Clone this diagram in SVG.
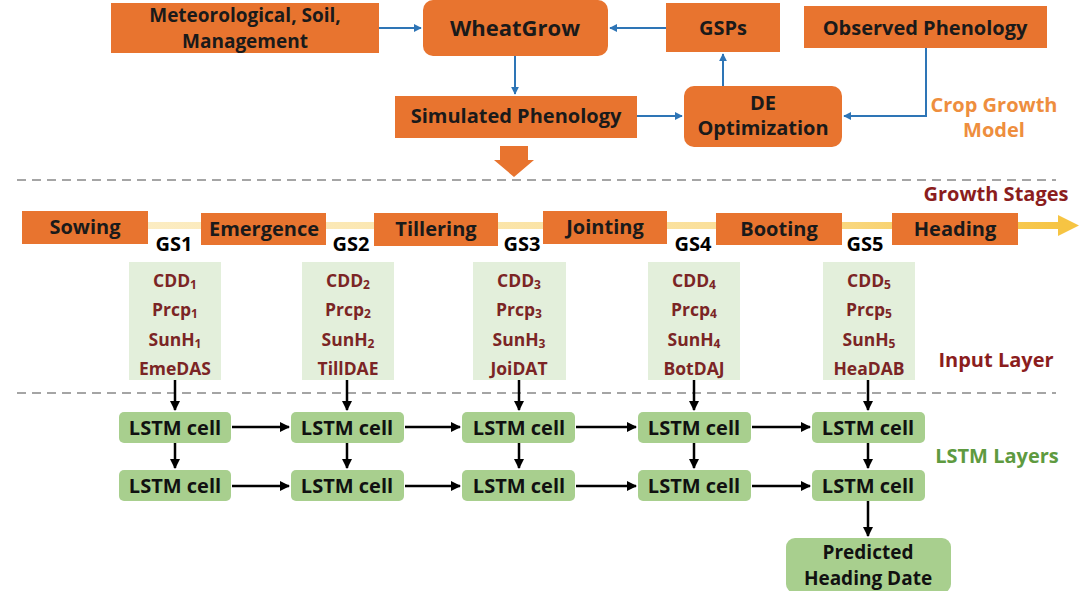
<svg xmlns="http://www.w3.org/2000/svg" width="1080" height="591" viewBox="0 0 1080 591">
<defs>
<style>
text{font-family:"Open Sans","Noto Sans","Liberation Sans",sans-serif;font-weight:bold;text-anchor:middle;dominant-baseline:central}
.org{fill:#E8742F}
.otx{font-size:20px;fill:#1a1a1a}
.gs{font-size:20px;fill:#000}
.inp{fill:#E3EFDB}
.itx{font-size:17.5px;fill:#7B2525}
.sub{font-size:12px}
.lstm{fill:#A8CF8E}
.ltx{font-size:20px;fill:#111}
.blue{stroke:#2E75B6;stroke-width:2;fill:none}
.blk{stroke:#000;stroke-width:2.5;fill:none}
.dash{stroke:#888;stroke-width:1.5;stroke-dasharray:9 6;fill:none}
</style>
<marker id="ab" viewBox="0 0 10 10" refX="9" refY="5" markerWidth="4" markerHeight="4" orient="auto"><path d="M0,0L10,5L0,10z" fill="#2E75B6"/></marker>
<marker id="ak" viewBox="0 0 10 10" refX="9" refY="5" markerWidth="4" markerHeight="4" orient="auto"><path d="M0,0L10,5L0,10z" fill="#000"/></marker>
<linearGradient id="yl" x1="0" x2="1" y1="0" y2="0"><stop offset="0" stop-color="#FCEFCB"/><stop offset="0.7" stop-color="#FADF98"/><stop offset="1" stop-color="#F6C443"/></linearGradient>
</defs>
<rect width="1080" height="591" fill="#fff"/>

<!-- separators -->
<line class="dash" x1="17" y1="180" x2="1056" y2="180"/>
<line class="dash" x1="17" y1="393" x2="1056" y2="393"/>

<!-- top section nodes -->
<g id="meteo"><rect class="org" x="111" y="3" width="268" height="50"/><text class="otx" x="245" y="15" style="font-size:19px">Meteorological, Soil,</text><text class="otx" x="245" y="41" style="font-size:19px">Management</text></g>
<g id="wheatgrow"><rect class="org" x="423" y="0" width="185" height="56" rx="10"/><text class="otx" x="515" y="27" style="font-size:22px">WheatGrow</text></g>
<g id="gsps"><rect class="org" x="666" y="3" width="114" height="49"/><text class="otx" x="723" y="27">GSPs</text></g>
<g id="observed"><rect class="org" x="804" y="6" width="243" height="42"/><text class="otx" x="925" y="27">Observed Phenology</text></g>
<g id="simulated"><rect class="org" x="395" y="96" width="242" height="42"/><text class="otx" x="516" y="115">Simulated Phenology</text></g>
<g id="de"><rect class="org" x="684" y="86" width="158" height="61" rx="10"/><text class="otx" x="763" y="102">DE</text><text class="otx" x="763" y="127">Optimization</text></g>
<g id="cropmodel"><text x="994" y="104" style="font-size:20px;fill:#EE8E3E">Crop Growth</text><text x="994" y="129" style="font-size:20px;fill:#EE8E3E">Model</text></g>
<g id="bigarrow"><path class="org" d="M500,146H528V160H534L514,177L494,160H500Z"/></g>

<!-- growth stages -->
<g id="stagebar"><rect x="22" y="222" width="1040" height="7" fill="url(#yl)"/><path d="M1058,215L1079,225.5L1058,236Z" fill="#F6C443"/></g>
<g id="growthstages"><text x="996" y="193" style="font-size:20px;fill:#8B1D1D">Growth Stages</text></g>
<g id="sowing"><rect class="org" x="22" y="211" width="126" height="33"/><text class="otx" x="85" y="226">Sowing</text></g>
<g id="emergence"><rect class="org" x="201" y="213" width="125" height="32"/><text class="otx" x="264" y="228">Emergence</text></g>
<g id="tillering"><rect class="org" x="374" y="213" width="124" height="33"/><text class="otx" x="436" y="228">Tillering</text></g>
<g id="jointing"><rect class="org" x="543" y="211" width="124" height="33"/><text class="otx" x="605" y="226">Jointing</text></g>
<g id="booting"><rect class="org" x="716" y="213" width="126" height="32"/><text class="otx" x="779" y="228">Booting</text></g>
<g id="heading"><rect class="org" x="892" y="213" width="126" height="32"/><text class="otx" x="955" y="228">Heading</text></g>
<g id="gslabels"><text class="gs" x="174" y="243">GS1</text><text class="gs" x="351" y="243">GS2</text><text class="gs" x="522" y="243">GS3</text><text class="gs" x="693" y="243">GS4</text><text class="gs" x="865" y="243">GS5</text></g>

<!-- input boxes -->
<g id="in1"><rect class="inp" x="129" y="262" width="92" height="118"/><text class="itx" x="175" y="280">CDD<tspan class="sub" dy="4">1</tspan></text><text class="itx" x="175" y="309">Prcp<tspan class="sub" dy="4">1</tspan></text><text class="itx" x="175" y="339">SunH<tspan class="sub" dy="4">1</tspan></text><text class="itx" x="175" y="368">EmeDAS</text></g>
<g id="in2"><rect class="inp" x="302" y="262" width="92" height="118"/><text class="itx" x="348" y="280">CDD<tspan class="sub" dy="4">2</tspan></text><text class="itx" x="348" y="309">Prcp<tspan class="sub" dy="4">2</tspan></text><text class="itx" x="348" y="339">SunH<tspan class="sub" dy="4">2</tspan></text><text class="itx" x="348" y="368">TillDAE</text></g>
<g id="in3"><rect class="inp" x="473" y="262" width="93" height="118"/><text class="itx" x="519" y="280">CDD<tspan class="sub" dy="4">3</tspan></text><text class="itx" x="519" y="309">Prcp<tspan class="sub" dy="4">3</tspan></text><text class="itx" x="519" y="339">SunH<tspan class="sub" dy="4">3</tspan></text><text class="itx" x="519" y="368">JoiDAT</text></g>
<g id="in4"><rect class="inp" x="648" y="262" width="92" height="118"/><text class="itx" x="694" y="280">CDD<tspan class="sub" dy="4">4</tspan></text><text class="itx" x="694" y="309">Prcp<tspan class="sub" dy="4">4</tspan></text><text class="itx" x="694" y="339">SunH<tspan class="sub" dy="4">4</tspan></text><text class="itx" x="694" y="368">BotDAJ</text></g>
<g id="in5"><rect class="inp" x="823" y="262" width="92" height="118"/><text class="itx" x="869" y="280">CDD<tspan class="sub" dy="4">5</tspan></text><text class="itx" x="869" y="309">Prcp<tspan class="sub" dy="4">5</tspan></text><text class="itx" x="869" y="339">SunH<tspan class="sub" dy="4">5</tspan></text><text class="itx" x="869" y="368">HeaDAB</text></g>
<g id="inputlayer"><text x="996" y="359" style="font-size:20px;fill:#8B1D1D">Input Layer</text></g>

<!-- LSTM cells -->
<g id="l11"><rect class="lstm" x="119" y="412" width="112" height="31" rx="5"/><text class="ltx" x="175" y="427">LSTM cell</text></g>
<g id="l12"><rect class="lstm" x="291" y="412" width="113" height="31" rx="5"/><text class="ltx" x="347" y="427">LSTM cell</text></g>
<g id="l13"><rect class="lstm" x="462" y="412" width="113" height="31" rx="5"/><text class="ltx" x="519" y="427">LSTM cell</text></g>
<g id="l14"><rect class="lstm" x="638" y="412" width="113" height="31" rx="5"/><text class="ltx" x="694" y="427">LSTM cell</text></g>
<g id="l15"><rect class="lstm" x="812" y="412" width="113" height="31" rx="5"/><text class="ltx" x="868" y="427">LSTM cell</text></g>
<g id="l21"><rect class="lstm" x="119" y="470" width="112" height="31" rx="5"/><text class="ltx" x="175" y="485">LSTM cell</text></g>
<g id="l22"><rect class="lstm" x="291" y="470" width="113" height="31" rx="5"/><text class="ltx" x="347" y="485">LSTM cell</text></g>
<g id="l23"><rect class="lstm" x="462" y="470" width="113" height="31" rx="5"/><text class="ltx" x="519" y="485">LSTM cell</text></g>
<g id="l24"><rect class="lstm" x="638" y="470" width="113" height="31" rx="5"/><text class="ltx" x="694" y="485">LSTM cell</text></g>
<g id="l25"><rect class="lstm" x="812" y="470" width="113" height="31" rx="5"/><text class="ltx" x="868" y="485">LSTM cell</text></g>
<g id="lstmlayers"><text x="997" y="455" style="font-size:20px;fill:#5E9A40">LSTM Layers</text></g>
<g id="predicted"><rect class="lstm" x="786" y="538" width="165" height="55" rx="9"/><text class="ltx" x="868" y="552" style="font-size:19px">Predicted</text><text class="ltx" x="868" y="578" style="font-size:19px">Heading Date</text></g>

<!-- connectors -->
<g id="connectors">
<line class="blue" x1="379" y1="28" x2="421" y2="28" marker-end="url(#ab)"/>
<line class="blue" x1="666" y1="28" x2="610" y2="28" marker-end="url(#ab)"/>
<line class="blue" x1="515" y1="56" x2="515" y2="94" marker-end="url(#ab)"/>
<line class="blue" x1="637" y1="116" x2="682" y2="116" marker-end="url(#ab)"/>
<line class="blue" x1="723" y1="86" x2="723" y2="54" marker-end="url(#ab)"/>
<polyline class="blue" points="926,48 926,116 844,116" marker-end="url(#ab)"/>

<line class="blk" x1="175" y1="380" x2="175" y2="410" marker-end="url(#ak)"/>
<line class="blk" x1="347" y1="380" x2="347" y2="410" marker-end="url(#ak)"/>
<line class="blk" x1="519" y1="380" x2="519" y2="410" marker-end="url(#ak)"/>
<line class="blk" x1="694" y1="380" x2="694" y2="410" marker-end="url(#ak)"/>
<line class="blk" x1="868" y1="380" x2="868" y2="410" marker-end="url(#ak)"/>

<line class="blk" x1="175" y1="443" x2="175" y2="468" marker-end="url(#ak)"/>
<line class="blk" x1="347" y1="443" x2="347" y2="468" marker-end="url(#ak)"/>
<line class="blk" x1="519" y1="443" x2="519" y2="468" marker-end="url(#ak)"/>
<line class="blk" x1="694" y1="443" x2="694" y2="468" marker-end="url(#ak)"/>
<line class="blk" x1="868" y1="443" x2="868" y2="468" marker-end="url(#ak)"/>
<line class="blk" x1="868" y1="501" x2="868" y2="536" marker-end="url(#ak)"/>

<line class="blk" x1="232" y1="427" x2="289" y2="427" marker-end="url(#ak)"/>
<line class="blk" x1="405" y1="427" x2="460" y2="427" marker-end="url(#ak)"/>
<line class="blk" x1="576" y1="427" x2="636" y2="427" marker-end="url(#ak)"/>
<line class="blk" x1="752" y1="427" x2="810" y2="427" marker-end="url(#ak)"/>
<line class="blk" x1="232" y1="486" x2="289" y2="486" marker-end="url(#ak)"/>
<line class="blk" x1="405" y1="486" x2="460" y2="486" marker-end="url(#ak)"/>
<line class="blk" x1="576" y1="486" x2="636" y2="486" marker-end="url(#ak)"/>
<line class="blk" x1="752" y1="486" x2="810" y2="486" marker-end="url(#ak)"/>
</g>
</svg>
